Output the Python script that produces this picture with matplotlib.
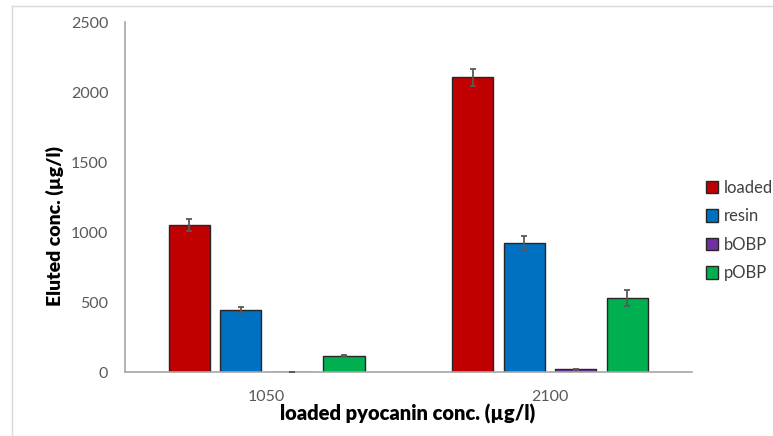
import numpy as np
import matplotlib
matplotlib.use('Agg')
import matplotlib.pyplot as plt
from matplotlib.lines import Line2D

plt.rcParams['font.family'] = ['Lato', 'DejaVu Sans']

# Data
groups = ['1050', '2100']
series = ['loaded', 'resin', 'bOBP', 'pOBP']
loaded = [1050, 2105]
resin = [443, 924]
bobp = [2, 22]
pobp = [119, 531]
loaded_err = [42, 62]
resin_err = [20, 51]
bobp_err = [1, 4]
pobp_err = [4, 56]

colors = ['#C00000', '#0070C0', '#7030A0', '#00B050']
tick_grey = '#595959'
axis_grey = '#A6A6A6'
W, H = 773, 436


def main():
    fig = plt.figure(figsize=(W/100, H/100), dpi=100)
    ax = fig.add_axes([0.1617, 0.1461, 0.7331, 0.8034])

    values = [loaded, resin, bobp, pobp]
    errors = [loaded_err, resin_err, bobp_err, pobp_err]
    x = np.arange(len(groups))
    w = 0.145   # bar width
    step = 0.182  # distance between bars
    offsets = (np.arange(len(series)) - 1.5) * step
    for i, name in enumerate(series):
        ax.bar(x + offsets[i], values[i], w, color=colors[i], edgecolor='#262626',
               lw=1, label=name, zorder=2)
        ax.errorbar(x + offsets[i], values[i], yerr=errors[i], fmt='none',
                    ecolor=tick_grey, elinewidth=1.3, capsize=2, capthick=1.3, zorder=3)

    ax.set_xlim(-0.5, 1.5)
    ax.set_ylim(0, 2500)
    ax.set_yticks(np.arange(0, 2501, 500))
    ax.set_xticks(x)
    ax.set_xticklabels(groups)
    ax.tick_params(length=0, labelsize=11.5, colors=tick_grey)
    ax.tick_params(axis='x', pad=13)
    ax.tick_params(axis='y', pad=12)
    for s in ['top', 'right']:
        ax.spines[s].set_visible(False)
    for s in ['left', 'bottom']:
        ax.spines[s].set_color(axis_grey)
        ax.spines[s].set_linewidth(1.2)

    # axis titles placed in figure pixels
    fig.text(408/W, 1 - 414/H, 'loaded pyocanin conc. (µg/l)', fontsize=14.5,
             fontweight='heavy', ha='center', va='center')
    fig.text(55/W, 1 - 226/H, 'Eluted conc. (µg/l)', fontsize=14, fontweight='heavy',
             rotation=90, ha='center', va='center')

    fig.legend(loc='upper left', bbox_to_anchor=(0.9045, 0.603), frameon=False,
               fontsize=12, labelcolor='#404040', handlelength=0.75, handleheight=0.75,
               handletextpad=0.35, labelspacing=0.75, borderaxespad=0)

    # light frame of the chart area
    fig.add_artist(Line2D([12/W, 1], [1 - 6/H, 1 - 6/H], color='#D9D9D9', lw=1))
    fig.add_artist(Line2D([12/W, 12/W], [0, 1 - 6/H], color='#D9D9D9', lw=1))

    fig.savefig('out.png', dpi=100)


if __name__ == '__main__':
    main()
